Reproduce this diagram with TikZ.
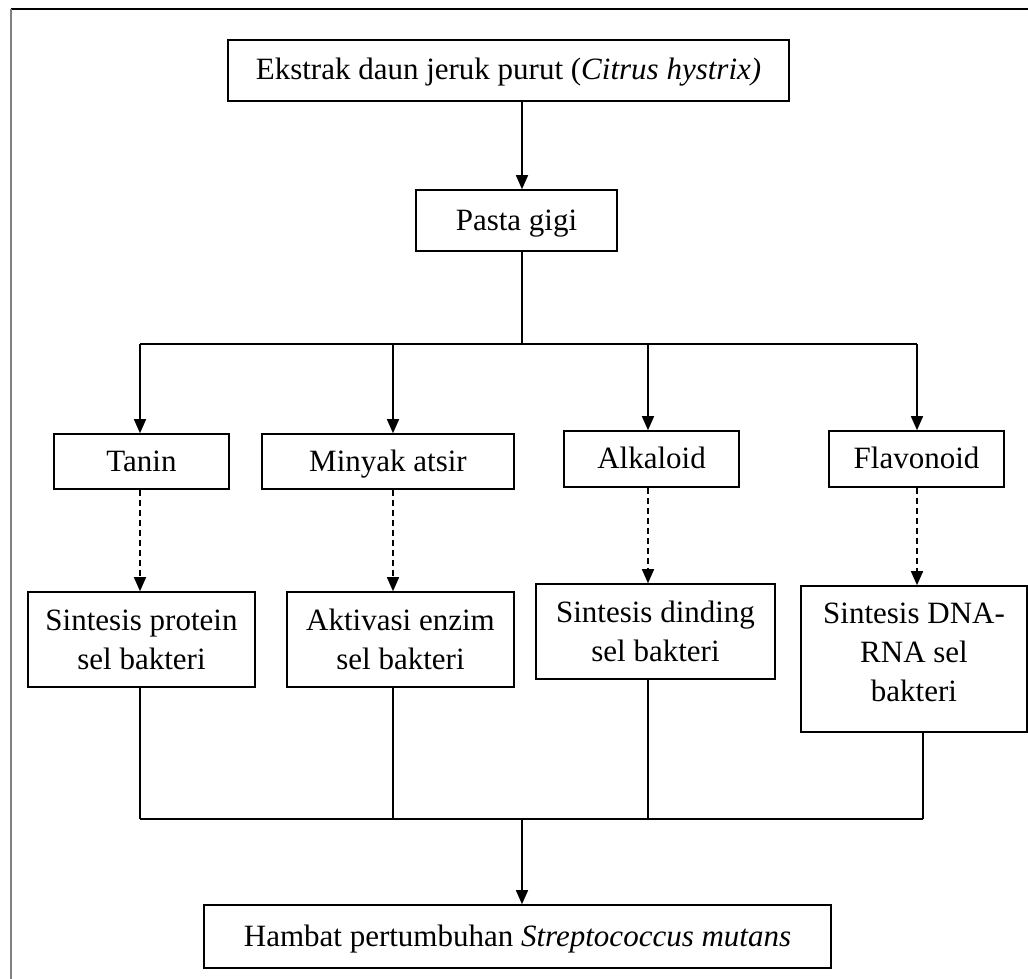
\documentclass[tikz,border=0pt]{standalone}
\usepackage{fontspec}
\setmainfont{Liberation Serif}
\usepackage{tikz}
\usetikzlibrary{arrows.meta,positioning,calc}

\begin{document}
\begin{tikzpicture}[x=1pt,y=-1pt,
  box/.style={draw,line width=1.6pt,inner sep=0pt,align=center,
              font=\fontsize{31}{39}\selectfont},
  one/.style={box,text height=22pt,text depth=3pt},
  arr/.style={line width=1.5pt,-{Triangle[length=14pt,width=12pt]}},
  dasharr/.style={arr,dash pattern=on 6pt off 4pt},
  link/.style={line width=1.5pt}]
\useasboundingbox (0,0) rectangle (1028,979);

% frame
\draw[black,line width=2pt] (11,9) -- (1028,9);
\draw[gray,line width=2pt] (11,9) -- (11,979);

% top
\node[one,minimum width=561,minimum height=61] (ekstrak) at (508.5,70.5)
  {Ekstrak daun jeruk purut (\textit{Citrus hystrix)}};
\node[one,minimum width=201,minimum height=61] (pasta) at (516.5,220.5)
  {Pasta gigi};
\coordinate (split) at (522,344);
\draw[arr] (ekstrak.south -| split) -- (pasta.north -| split);
\draw[link] (pasta.south -| split) -- (split);

% compounds
\node[one,minimum width=175,minimum height=55] (tanin) at (141.5,461.5) {Tanin};
\node[one,minimum width=252,minimum height=55] (minyak) at (388,461.5) {Minyak atsir};
\node[one,minimum width=175,minimum height=56] (alkaloid) at (651.5,459) {Alkaloid};
\node[one,minimum width=175,minimum height=56] (flavonoid) at (916.5,459) {Flavonoid};

% effects
\node[box,minimum width=227,minimum height=95] (protein) at (141.5,639.5)
  {Sintesis protein\\sel bakteri};
\node[box,minimum width=227,minimum height=95] (enzim) at (400.5,639.5)
  {Aktivasi enzim\\sel bakteri};
\node[box,minimum width=239,minimum height=95] (dinding) at (655.5,631.5)
  {Sintesis dinding\\sel bakteri};
\node[box,minimum width=226,minimum height=146] (dna) at (914,659)
  {Sintesis DNA-\\RNA sel\\bakteri\\[-25pt]};

% result
\node[one,minimum width=627,minimum height=63] (hambat) at (517.5,936.5)
  {Hambat pertumbuhan \textit{Streptococcus mutans}};
\coordinate (join) at (522,819);

% branches
\draw[link] (140,344) -- (917,344);
\foreach \top/\bot/\x in {tanin/protein/140, minyak/enzim/393,
                          alkaloid/dinding/648, flavonoid/dna/917}{
  \draw[arr] (\x,344) -- (\top.north -| \x,0);
  \draw[dasharr] (\top.south -| \x,0) -- (\bot.north -| \x,0);
}
\foreach \bot/\x in {protein/140, enzim/393, dinding/648, dna/923}{
  \draw[link] (\bot.south -| \x,0) -- (\x,819);
}
\draw[link] (140,819) -- (923,819);
\draw[arr] (join) -- (hambat.north -| join);

\end{tikzpicture}
\end{document}
